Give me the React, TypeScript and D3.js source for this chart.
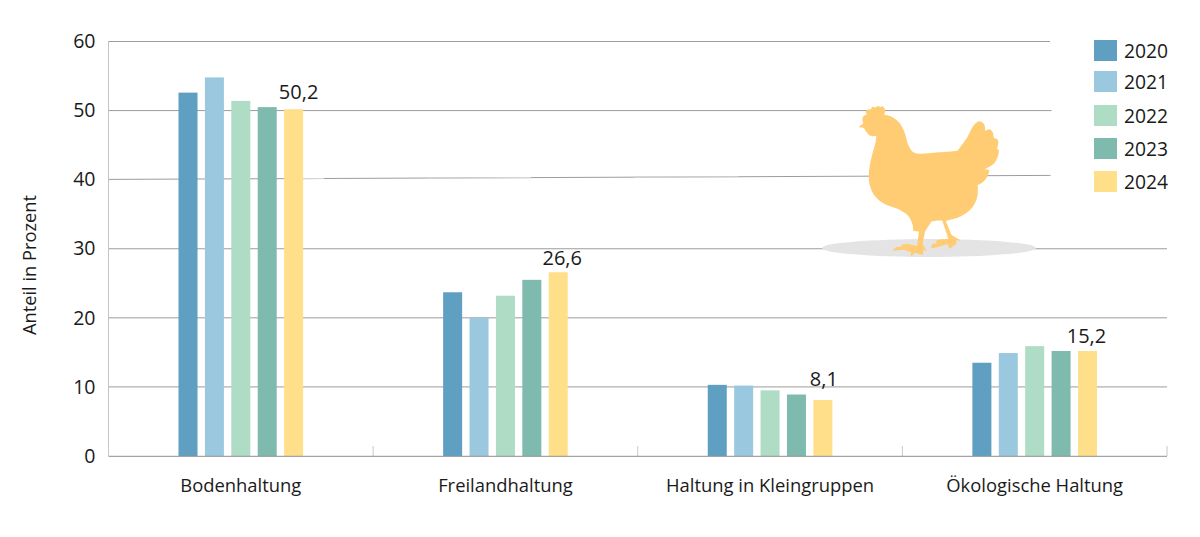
import React from "react";
import * as d3 from "d3";

const categories = ["Bodenhaltung", "Freilandhaltung", "Haltung in Kleingruppen", "Ökologische Haltung"];
const years = ["2020", "2021", "2022", "2023", "2024"];
const values2020 = [52.6, 23.7, 10.3, 13.5];
const values2021 = [54.8, 20.0, 10.2, 14.9];
const values2022 = [51.4, 23.2, 9.5, 15.9];
const values2023 = [50.5, 25.5, 8.9, 15.2];
const values2024 = [50.2, 26.6, 8.1, 15.2];
const series = [values2020, values2021, values2022, values2023, values2024];
const colors = ["#5f9fc2", "#9ac8df", "#aedcc5", "#7fbaae", "#ffdf8a"];
const yTicks = [0, 10, 20, 30, 40, 50, 60];
const valueLabels = ["50,2", "26,6", "8,1", "15,2"];

// layout only
const FONT = "'Open Sans', sans-serif";
const labelDx = [5, 4, 1, -1];
const labelDy = [10, 7, 14, 8];
const legendTops = [40, 71, 105, 138, 171];
const gridEnd: Record<number, number> = { 60: 1050, 50: 1051.5, 30: 1167, 20: 1167, 10: 1167 };
const fadedStretches = [[303, 324], [427, 531], [634, 738]];

// silhouette outline; a repeated point makes a sharp corner
const c = (p: [number, number]): [number, number][] => [p, p];
const hen: [number, number][] = [
  ...c([25, 82]), ...c([40, 70]), [37, 60], [41, 48], ...c([50, 44]), [48, 34], [55, 28], ...c([62, 29]), [68, 20], ...c([76, 23]),
  [84, 18], ...c([90, 21]), [100, 20], [105, 30], ...c([103, 44]),
  [125, 50], [148, 68], [163, 95], [175, 135], [188, 155], [205, 161], [265, 157], ...c([323, 152]),
  [350, 115], [372, 75], [388, 64], [402, 72], ...c([406, 93]), [418, 88], [428, 96], ...c([431, 113]), [442, 118], [445, 128], ...c([441, 147]),
  [446, 150], [443, 170], [430, 193], ...c([403, 208]), ...c([418, 210]), [413, 228], [400, 245], ...c([383, 255]), [382, 290], [365, 325], [330, 350], ...c([287, 362]),
  ...c([305, 405]), ...c([335, 423]), ...c([320, 420]), ...c([318, 433]), ...c([298, 447]), ...c([293, 431]), ...c([268, 440]), ...c([243, 445]), ...c([247, 432]), ...c([262, 430]),
  ...c([256, 423]), ...c([272, 418]), ...c([296, 417]), ...c([277, 362]), [258, 362], ...c([245, 364]), ...c([225, 395]), ...c([218, 432]), ...c([232, 456]), ...c([221, 447]), ...c([218, 465]),
  ...c([195, 458]), ...c([182, 470]), ...c([183, 456]), ...c([160, 449]), ...c([127, 452]), ...c([138, 442]), ...c([160, 438]), ...c([152, 434]), ...c([175, 432]), ...c([201, 438]),
  ...c([207, 395]), ...c([190, 393]), [187, 372], [175, 348], [150, 330], [100, 310], [72, 285], [58, 250], [57, 215], [65, 170],
  [76, 130], ...c([79, 107]), [62, 108], [50, 97], ...c([42, 84]),
];

export default function App() {
  const x = d3.scaleBand<string>().domain(categories).range([108.5, 1167]);
  const y = d3.scaleLinear().domain([0, 60]).range([456, 41.5]);
  const inner = d3.scaleBand<string>().domain(years).range([0, 124.6]).paddingInner(0.28);
  const groupX = (k: string) => (x(k) as number) + x.bandwidth() / 2 - 62.3;
  const henPath = d3.line().curve(d3.curveCatmullRomClosed.alpha(0.5))(hen) as string;
  const slope = (px: number) => 179.4 + ((px - 108.5) * (175.4 - 179.4)) / (1050.5 - 108.5);
  const boundaries = [...categories.map((k) => x(k) as number), 1167];

  return (
    <svg width={1200} height={537} style={{ position: "absolute", left: 0, top: 0 }} fontFamily={FONT} fill="#1a1a1a">
      <rect width={1200} height={537} fill="#fff" />
      {yTicks.filter((t) => t !== 0 && t !== 40).map((t) => (
        <line key={t} x1={108.5} x2={gridEnd[t]} y1={y(t)} y2={y(t)} stroke="#9c9c9c" strokeWidth={1} />
      ))}
      <line x1={108.5} x2={1050.5} y1={slope(108.5)} y2={slope(1050.5)} stroke="#9c9c9c" strokeWidth={1} />
      {fadedStretches.map(([a, b]) => (
        <line key={a} x1={a} x2={b} y1={slope(a)} y2={slope(b)} stroke="#d4d4d4" strokeWidth={1.2} />
      ))}
      <line x1={108.5} x2={108.5} y1={41} y2={456} stroke="#c4c4c4" strokeWidth={1} />
      {boundaries.map((b) => (
        <line key={b} x1={b} x2={b} y1={446} y2={456} stroke="#c8c8c8" strokeWidth={1} />
      ))}
      <ellipse cx={929} cy={248} rx={107} ry={9} fill="#e4e4e4" />
      <path d={henPath} transform="translate(850,100) scale(0.3333)" fill="#ffcc73" />
      {categories.map((k, ci) =>
        years.map((yr, si) => (
          <rect
            key={yr + k}
            x={groupX(k) + (inner(yr) as number)}
            y={y(series[si][ci])}
            width={inner.bandwidth()}
            height={456 - y(series[si][ci])}
            fill={colors[si]}
          />
        ))
      )}
      <line x1={108.5} x2={1167} y1={456.3} y2={456.3} stroke="#8f8f8f" strokeWidth={1} />
      {yTicks.map((t) => (
        <text key={t} x={95.5} y={y(t) + 6.7} textAnchor="end" fontSize={19.5}>{t}</text>
      ))}
      {categories.map((k) => (
        <text key={k} x={(x(k) as number) + x.bandwidth() / 2} y={491.7} textAnchor="middle" fontSize={18.4}>{k}</text>
      ))}
      {categories.map((k, ci) => (
        <text
          key={k}
          x={groupX(k) + (inner("2024") as number) + inner.bandwidth() / 2 + labelDx[ci]}
          y={y(values2024[ci]) - labelDy[ci]}
          textAnchor="middle"
          fontSize={20}
        >
          {valueLabels[ci]}
        </text>
      ))}
      <text transform="translate(36,265) rotate(-90)" textAnchor="middle" fontSize={18.3}>Anteil in Prozent</text>
      {years.map((yr, i) => (
        <g key={yr}>
          <rect x={1094} y={legendTops[i]} width={23} height={21} fill={colors[i]} />
          <text x={1124} y={legendTops[i] + 17.5} fontSize={19.3}>{yr}</text>
        </g>
      ))}
    </svg>
  );
}
